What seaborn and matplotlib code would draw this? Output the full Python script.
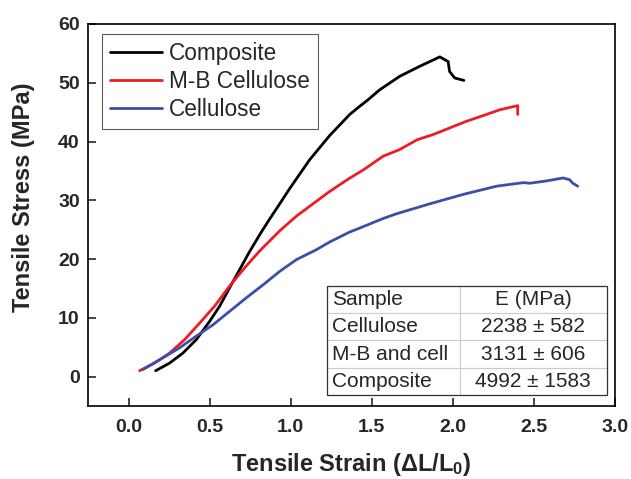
import numpy as np
import pandas as pd
import matplotlib
matplotlib.use('Agg')
import matplotlib.pyplot as plt
import seaborn as sns

# 数据
composite_strain = [0.167, 0.253, 0.335, 0.418, 0.50, 0.562, 0.623, 0.685, 0.747, 0.819,
                    0.87, 0.93, 0.994, 1.117, 1.24, 1.364, 1.426, 1.477, 1.549, 1.673,
                    1.796, 1.92, 1.971, 1.98, 2.012, 2.068]
composite_stress = [1.0, 2.3, 4.0, 6.3, 9.4, 12.0, 15.1, 18.2, 21.3, 24.6,
                    26.8, 29.3, 32.0, 36.9, 41.0, 44.6, 46.0, 47.1, 48.8, 51.1,
                    52.8, 54.4, 53.6, 51.9, 50.8, 50.4]

mb_strain = [0.068, 0.16, 0.253, 0.346, 0.438, 0.531, 0.623, 0.716, 0.809, 0.932,
             1.035, 1.24, 1.36, 1.45, 1.57, 1.67, 1.78, 1.88, 1.98, 2.08,
             2.228, 2.29, 2.40, 2.40]
mb_stress = [1.0, 2.3, 4.0, 6.3, 9.1, 12.0, 15.4, 18.5, 21.4, 24.8,
             27.3, 31.5, 33.7, 35.2, 37.5, 38.6, 40.3, 41.2, 42.3, 43.4,
             44.8, 45.4, 46.1, 44.6]

cell_strain = [0.088, 0.212, 0.315, 0.418, 0.52, 0.623, 0.726, 0.829, 0.932, 1.035,
               1.159, 1.24, 1.364, 1.446, 1.57, 1.652, 1.858, 2.064, 2.27, 2.434,
               2.475, 2.58, 2.68, 2.72, 2.74, 2.77]
cell_stress = [1.2, 3.2, 4.9, 6.9, 8.8, 11.1, 13.4, 15.6, 17.9, 19.9,
               21.6, 22.9, 24.6, 25.5, 26.9, 27.7, 29.4, 31.0, 32.4, 33.0,
               32.9, 33.3, 33.8, 33.5, 32.9, 32.4]

series_names = ['Composite', 'M-B Cellulose', 'Cellulose']
series_colors = ['#000000', '#ee1c24', '#3a4fa8']

table_rows = [['Sample', 'E (MPa)'],
              ['Cellulose', '2238 ± 582'],
              ['M-B and cell', '3131 ± 606'],
              ['Composite', '4992 ± 1583']]

sns.set_style('white')
plt.rcParams['font.family'] = ['Liberation Sans', 'DejaVu Sans']
plt.rcParams['mathtext.fontset'] = 'custom'
plt.rcParams['mathtext.rm'] = 'Liberation Sans'
plt.rcParams['mathtext.bf'] = 'Liberation Sans:bold'

frames = []
for name, xs, ys in zip(series_names,
                        [composite_strain, mb_strain, cell_strain],
                        [composite_stress, mb_stress, cell_stress]):
    frames.append(pd.DataFrame({'strain': xs, 'stress': ys, 'sample': name}))
df = pd.concat(frames, ignore_index=True)

fig = plt.figure(figsize=(6.31, 4.79), dpi=100)
ax = fig.add_axes([0.1395, 0.1524, 0.8351, 0.7976])

sns.lineplot(data=df, x='strain', y='stress', hue='sample', hue_order=series_names,
             palette=series_colors, sort=False, estimator=None, linewidth=2.0, ax=ax)
for ln in ax.get_lines():
    ln.set_solid_joinstyle('round')
    ln.set_solid_capstyle('round')

ax.set_xlim(-0.25, 3.0)
ax.set_ylim(-5, 60)
ax.set_xticks(np.arange(0, 3.01, 0.5))
ax.set_yticks(np.arange(0, 61, 10))
ax.set_xticklabels([f'{v:.1f}' for v in np.arange(0, 3.01, 0.5)])
ax.tick_params(direction='in', length=6, width=1.2, labelsize=14,
               bottom=True, left=True, top=False, right=False)
ax.tick_params(axis='x', pad=9)
ax.tick_params(axis='y', pad=6)
for lab in ax.get_xticklabels() + ax.get_yticklabels():
    lab.set_fontweight('bold')
for sp in ax.spines.values():
    sp.set_color('black')
    sp.set_linewidth(1.2)

ax.set_xlabel(r'Tensile Strain ($\mathbf{\Delta L/L_0}$)', fontsize=17, fontweight='bold')
ax.set_ylabel('Tensile Stress (MPa)', fontsize=17, fontweight='bold')
ax.xaxis.set_label_coords(0.5, -0.117)
ax.yaxis.set_label_coords(-0.1006, 0.547)

leg = ax.legend(loc='upper left', bbox_to_anchor=(0.0266, 0.974), fontsize=16.3,
                frameon=True, fancybox=False, edgecolor='#333333', handlelength=2.3,
                borderpad=0.35, labelspacing=0.22, handletextpad=0.3, borderaxespad=0)
leg.get_frame().set_linewidth(0.8)

tbl = ax.table(cellText=table_rows, cellLoc='left', colWidths=[0.252, 0.279],
               bbox=[0.4535, 0.0288, 0.531, 0.2853])
tbl.auto_set_font_size(False)
tbl.set_fontsize(15)
for (r, c), cell in tbl.get_celld().items():
    cell.set_edgecolor('#cccccc')
    cell.set_linewidth(0.8)
    cell.PAD = 0.04
    if c == 1:
        cell._loc = 'center'
        cell.get_text().set_horizontalalignment('center')
# outer border darker
ax.add_patch(plt.Rectangle((0.4535, 0.0288), 0.531, 0.2853, transform=ax.transAxes,
                           fill=False, edgecolor='#333333', linewidth=0.9, zorder=10))

fig.savefig('out.png', dpi=100)
